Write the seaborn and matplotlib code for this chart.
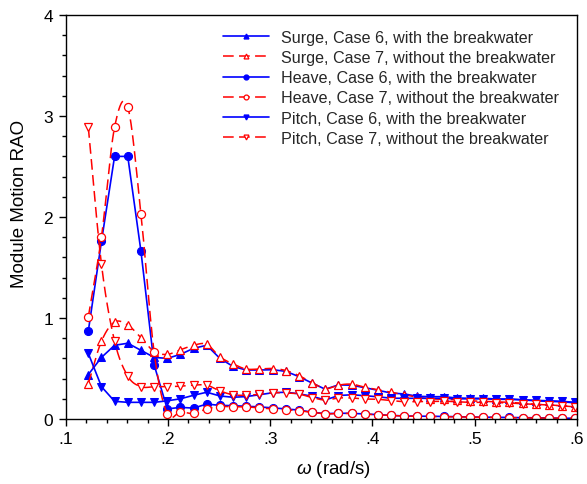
import numpy as np
import pandas as pd
import matplotlib
matplotlib.use("Agg")
import matplotlib.pyplot as plt
import seaborn as sns
from matplotlib.lines import Line2D
from matplotlib.ticker import MultipleLocator

# ---------------- data ----------------
omega = [0.1221, 0.1350, 0.1478, 0.1607, 0.1736, 0.1865, 0.1993, 0.2122, 0.2251, 0.2379,
         0.2508, 0.2637, 0.2765, 0.2894, 0.3023, 0.3152, 0.3280, 0.3409, 0.3538, 0.3666,
         0.3795, 0.3924, 0.4052, 0.4181, 0.4310, 0.4439, 0.4567, 0.4696, 0.4825, 0.4953,
         0.5082, 0.5211, 0.5339, 0.5468, 0.5597, 0.5726, 0.5854, 0.5983]

surge_case6 = [0.44, 0.61, 0.73, 0.75, 0.68, 0.61, 0.60, 0.64, 0.70, 0.73,
               0.60, 0.52, 0.485, 0.485, 0.488, 0.472, 0.42, 0.356, 0.295, 0.337,
               0.335, 0.31, 0.285, 0.257, 0.248, 0.225, 0.221, 0.221, 0.208, 0.205,
               0.205, 0.198, 0.198, 0.19, 0.18, 0.175, 0.17, 0.16]
surge_case7 = [0.35, 0.77, 0.96, 0.93, 0.805, 0.667, 0.64, 0.686, 0.73, 0.74,
               0.615, 0.545, 0.495, 0.495, 0.50, 0.48, 0.43, 0.36, 0.30, 0.335,
               0.345, 0.315, 0.29, 0.265, 0.24, 0.215, 0.20, 0.195, 0.19, 0.18,
               0.175, 0.17, 0.165, 0.155, 0.145, 0.14, 0.13, 0.12]
heave_case6 = [0.87, 1.76, 2.60, 2.60, 1.66, 0.535, 0.10, 0.115, 0.108, 0.148,
               0.135, 0.132, 0.126, 0.12, 0.11, 0.10, 0.088, 0.068, 0.053, 0.057,
               0.056, 0.05, 0.043, 0.036, 0.03, 0.028, 0.027, 0.025, 0.023, 0.02,
               0.018, 0.017, 0.015, 0.013, 0.012, 0.01, 0.008, 0.007]
heave_case7 = [1.01, 1.805, 2.89, 3.09, 2.03, 0.66, 0.05, 0.07, 0.055, 0.10,
               0.122, 0.122, 0.12, 0.11, 0.10, 0.092, 0.082, 0.066, 0.05, 0.055,
               0.055, 0.048, 0.042, 0.035, 0.03, 0.027, 0.025, 0.023, 0.021, 0.019,
               0.017, 0.015, 0.013, 0.012, 0.01, 0.009, 0.008, 0.007]
pitch_case6 = [0.65, 0.32, 0.175, 0.165, 0.165, 0.165, 0.18, 0.20, 0.235, 0.265,
               0.228, 0.215, 0.222, 0.24, 0.26, 0.265, 0.25, 0.225, 0.188, 0.232,
               0.24, 0.231, 0.22, 0.206, 0.205, 0.205, 0.205, 0.205, 0.2, 0.2,
               0.2, 0.195, 0.195, 0.19, 0.185, 0.18, 0.175, 0.165]
pitch_case7 = [2.89, 1.53, 0.77, 0.425, 0.32, 0.32, 0.32, 0.325, 0.335, 0.335,
               0.278, 0.24, 0.235, 0.245, 0.26, 0.258, 0.248, 0.212, 0.188, 0.208,
               0.208, 0.198, 0.195, 0.182, 0.172, 0.172, 0.172, 0.176, 0.17, 0.165,
               0.165, 0.163, 0.158, 0.15, 0.145, 0.138, 0.13, 0.118]

labels = ["Surge, Case 6, with the breakwater",
          "Surge, Case 7, without the breakwater",
          "Heave, Case 6, with the breakwater",
          "Heave, Case 7, without the breakwater",
          "Pitch, Case 6, with the breakwater",
          "Pitch, Case 7, without the breakwater"]
series = [surge_case6, surge_case7, heave_case6, heave_case7, pitch_case6, pitch_case7]
markers = ["^", "^", "o", "o", "v", "v"]
with_bw = [True, False, True, False, True, False]

x_ticks = [0.1, 0.2, 0.3, 0.4, 0.5, 0.6]
x_ticklabels = [".1", ".2", ".3", ".4", ".5", ".6"]
y_ticks = [0, 1, 2, 3, 4]
y_ticklabels = ["0", "1", "2", "3", "4"]

# ---------------- style ----------------
sns.set_theme(style="ticks")
plt.rcParams['font.family'] = ['Liberation Sans', 'DejaVu Sans']
plt.rcParams['mathtext.fontset'] = 'custom'
plt.rcParams['mathtext.it'] = 'Liberation Sans:italic'
plt.rcParams['mathtext.rm'] = 'Liberation Sans'

fig = plt.figure(figsize=(5.87, 4.85), dpi=100)
ax = fig.add_axes([65.7 / 587, 65 / 485, 511.3 / 587, 404 / 485])


def smooth_curve(x, y, n=20):
    """Catmull-Rom rendering of the polyline through the data points."""
    x = np.asarray(x, float)
    y = np.asarray(y, float)
    m = np.empty_like(y)
    m[1:-1] = (y[2:] - y[:-2]) / 2.0
    m[0] = y[1] - y[0]
    m[-1] = y[-1] - y[-2]
    xs, ys = [], []
    for i in range(len(x) - 1):
        t = np.linspace(0, 1, n, endpoint=False)
        h00 = 2 * t**3 - 3 * t**2 + 1
        h10 = t**3 - 2 * t**2 + t
        h01 = -2 * t**3 + 3 * t**2
        h11 = t**3 - t**2
        ys.append(h00 * y[i] + h10 * m[i] + h01 * y[i + 1] + h11 * m[i + 1])
        xs.append(x[i] + t * (x[i + 1] - x[i]))
    xs.append([x[-1]])
    ys.append([y[-1]])
    return np.concatenate(xs), np.concatenate(ys)


dash = (0, (7, 3.5))
handles = []
for lab, vals, mk, bw in zip(labels, series, markers, with_bw):
    df = pd.DataFrame({"omega": omega, "rao": vals})
    if bw:
        sns.lineplot(data=df, x="omega", y="rao", ax=ax, color="blue", lw=1.2,
                     marker=mk, markersize=5.8, markeredgecolor="blue",
                     markerfacecolor="blue", estimator=None, legend=False)
        handles.append(Line2D([], [], color="blue", lw=1.2, marker=mk, markersize=3.5,
                              markerfacecolor="blue", markeredgecolor="blue"))
    else:
        sx, sy = smooth_curve(omega, vals)
        sdf = pd.DataFrame({"omega": sx, "rao": sy})
        sns.lineplot(data=sdf, x="omega", y="rao", ax=ax, color="red", lw=1.1,
                     linestyle=dash, estimator=None, legend=False)
        sns.lineplot(data=df, x="omega", y="rao", ax=ax, color="red", linestyle="none",
                     marker=mk, markersize=5.8, markerfacecolor="white",
                     markeredgecolor="red", markeredgewidth=0.9,
                     estimator=None, legend=False)
        handles.append(Line2D([], [], color="red", lw=1.1, linestyle=dash, marker=mk,
                              markersize=3.5, markerfacecolor="white",
                              markeredgecolor="red", markeredgewidth=0.9))

ax.set_xlim(0.1, 0.6)
ax.set_ylim(0, 4)
ax.set_xticks(x_ticks, x_ticklabels)
ax.set_yticks(y_ticks, y_ticklabels)
ax.xaxis.set_minor_locator(MultipleLocator(0.02))
ax.yaxis.set_minor_locator(MultipleLocator(0.2))
ax.tick_params(axis="both", which="major", direction="out", length=5, width=1,
               labelsize=12.5, colors="black", top=False, right=False, pad=4)
ax.tick_params(axis="both", which="minor", direction="out", length=3, width=1,
               top=False, right=False, colors="black")
for sp in ax.spines.values():
    sp.set_visible(True)
    sp.set_color("black")
    sp.set_linewidth(1.0)

ax.set_xlabel(r"$\omega$ (rad/s)", fontsize=13.5, color="black")
ax.set_ylabel("Module Motion RAO", fontsize=13.5, color="black")
ax.xaxis.set_label_coords(0.523, -0.097)
ax.yaxis.set_label_coords(-0.074, 0.535)
ax.grid(False)

ax.legend(handles, labels, loc="upper left", bbox_to_anchor=(0.307, 0.964),
          frameon=False, handlelength=2.9, handletextpad=0.73, labelspacing=0.33,
          borderpad=0, borderaxespad=0, fontsize=11.6)

fig.savefig("out.png", dpi=100, facecolor="white")
